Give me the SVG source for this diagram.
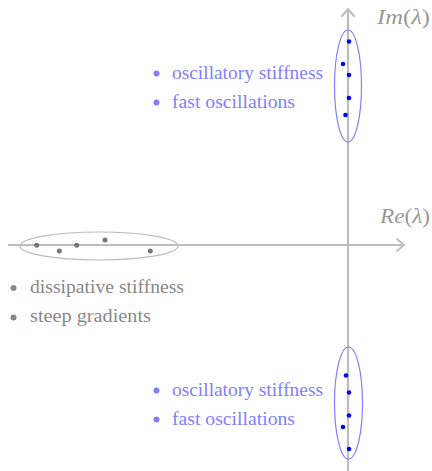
<svg xmlns="http://www.w3.org/2000/svg" width="432" height="471" viewBox="0 0 432 471">
<style>
.axis{stroke:#bdbdbd;stroke-width:2.2;fill:none}
.arrow{stroke:#bdbdbd;stroke-width:2;fill:none;stroke-linecap:round;stroke-linejoin:round}
.eb{stroke:#8080ff;stroke-width:1.2;fill:none}
.eg{stroke:#bbbbbb;stroke-width:1.2;fill:none}
.db{fill:#0000ff}
.dg{fill:#777777}
.tb{fill:#8080ff;font-family:"Liberation Serif",serif;font-size:19px}
.tg{fill:#888888;font-family:"Liberation Serif",serif;font-size:19px}
.bb{fill:#8080ff}
.bg{fill:#888888}
.lab{fill:#999999;font-family:"Liberation Serif",serif;font-size:20px}
.it{font-style:italic}
</style>
<g id="connectors">
<line class="axis" x1="8" y1="245" x2="404" y2="245"/>
<path class="arrow" d="M397,239 L404,245 L397,251"/>
<line class="axis" x1="348" y1="471" x2="348" y2="9"/>
<path class="arrow" d="M342,16 L348,9 L354,16"/>
</g>
<g id="label-im"><text class="lab" x="377" y="24" textLength="53" lengthAdjust="spacingAndGlyphs"><tspan class="it">Im</tspan>(<tspan class="it">λ</tspan>)</text></g>
<g id="label-re"><text class="lab" x="380" y="223" textLength="50" lengthAdjust="spacingAndGlyphs"><tspan class="it">Re</tspan>(<tspan class="it">λ</tspan>)</text></g>
<g id="cluster-top">
<ellipse class="eb" cx="348" cy="86" rx="13.5" ry="56"/>
<circle class="db" cx="349" cy="41.5" r="2.3"/>
<circle class="db" cx="343" cy="64" r="2.3"/>
<circle class="db" cx="349" cy="75" r="2.3"/>
<circle class="db" cx="349" cy="98" r="2.3"/>
<circle class="db" cx="345.5" cy="115" r="2.3"/>
</g>
<g id="cluster-bottom">
<ellipse class="eb" cx="348.5" cy="403" rx="14" ry="56"/>
<circle class="db" cx="346" cy="375.5" r="2.3"/>
<circle class="db" cx="349" cy="392.5" r="2.3"/>
<circle class="db" cx="349" cy="415.5" r="2.3"/>
<circle class="db" cx="343" cy="427" r="2.3"/>
<circle class="db" cx="349" cy="449" r="2.3"/>
</g>
<g id="cluster-left">
<ellipse class="eg" cx="99" cy="246" rx="79" ry="14"/>
<circle class="dg" cx="36.7" cy="245.3" r="2.5"/>
<circle class="dg" cx="59.3" cy="251" r="2.5"/>
<circle class="dg" cx="76.7" cy="245.3" r="2.5"/>
<circle class="dg" cx="105" cy="240" r="2.5"/>
<circle class="dg" cx="150.3" cy="251" r="2.5"/>
</g>
<g id="legend-top">
<circle class="bb" cx="156.5" cy="73.5" r="3"/>
<text class="tb" x="172" y="78.5" textLength="151" lengthAdjust="spacingAndGlyphs">oscillatory stiffness</text>
<circle class="bb" cx="156.5" cy="102.5" r="3"/>
<text class="tb" x="172" y="107.5" textLength="123" lengthAdjust="spacingAndGlyphs">fast oscillations</text>
</g>
<g id="legend-left">
<circle class="bg" cx="13.5" cy="288" r="3"/>
<text class="tg" x="30" y="293" textLength="154" lengthAdjust="spacingAndGlyphs">dissipative stiffness</text>
<circle class="bg" cx="13.5" cy="317.5" r="3"/>
<text class="tg" x="30" y="322" textLength="121" lengthAdjust="spacingAndGlyphs">steep gradients</text>
</g>
<g id="legend-bottom">
<circle class="bb" cx="156.5" cy="390.5" r="3"/>
<text class="tb" x="172" y="395.5" textLength="151" lengthAdjust="spacingAndGlyphs">oscillatory stiffness</text>
<circle class="bb" cx="156.5" cy="419.5" r="3"/>
<text class="tb" x="172" y="425" textLength="123" lengthAdjust="spacingAndGlyphs">fast oscillations</text>
</g>
</svg>
